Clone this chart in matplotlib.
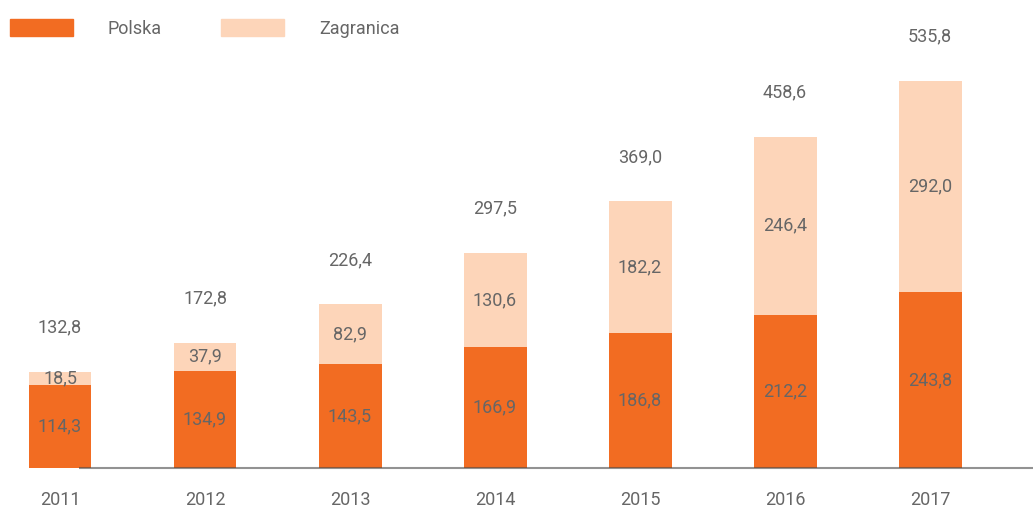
import matplotlib.pyplot as plt
from matplotlib.patches import Patch

years = ['2011', '2012', '2013', '2014', '2015', '2016', '2017']
polska = [114.3, 134.9, 143.5, 166.9, 186.8, 212.2, 243.8]
zagranica = [18.5, 37.9, 82.9, 130.6, 182.2, 246.4, 292.0]
totals = [132.8, 172.8, 226.4, 297.5, 369.0, 458.6, 535.8]

c_pl = '#f26c22'
c_za = '#fdd5b9'
c_txt = '#666666'
fs = 13

plt.rcParams['font.family'] = ['Roboto', 'DejaVu Sans']

fig = plt.figure(figsize=(10.33, 5.09), dpi=100)
ax = fig.add_axes([0, 0, 1, 1])

x = range(len(years))
ax.bar(x, polska, width=0.434, color=c_pl, zorder=2)
ax.bar(x, zagranica, width=0.434, bottom=polska, color=c_za, zorder=2)

def fmt(v):
    return f'{v:.1f}'.replace('.', ',')

for i in x:
    ax.text(i, polska[i] / 2, fmt(polska[i]), ha='center', va='center',
            fontsize=fs, color=c_txt, zorder=3)
    ax.text(i, polska[i] + zagranica[i] / 2, fmt(zagranica[i]), ha='center',
            va='center', fontsize=fs, color=c_txt, zorder=3)
    ax.annotate(fmt(totals[i]), (i, totals[i]), xytext=(0, 32),
                textcoords='offset points', ha='center', va='center',
                fontsize=fs, color=c_txt)
    ax.annotate(years[i], (i, 0), xytext=(0, -23), textcoords='offset points',
                ha='center', va='center', fontsize=fs, color=c_txt)

ax.hlines(0, 0.13, 6.75, color='#4a4a4a', alpha=0.6, lw=1.5, zorder=4)

ax.set_xlim(-0.414, 6.71)
ax.set_ylim(-56.8, 647.9)
ax.axis('off')

handles = [Patch(color=c_pl, label='Polska'), Patch(color=c_za, label='Zagranica')]
ax.legend(handles=handles, loc='upper left', bbox_to_anchor=(-0.006, 0.994),
          ncol=2, frameon=False, fontsize=fs, labelcolor=c_txt,
          handlelength=3.5, handleheight=1.05, handletextpad=1.9,
          columnspacing=3.3, borderaxespad=0.6, borderpad=0.3)

fig.savefig('out.png', dpi=100)
